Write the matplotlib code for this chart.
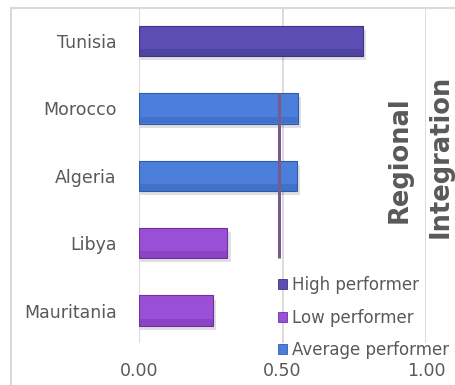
import matplotlib
matplotlib.use("Agg")
from matplotlib import pyplot as plt
from matplotlib.patches import Patch
from matplotlib.lines import Line2D

countries = ["Tunisia", "Morocco", "Algeria", "Libya", "Mauritania"]
scores = [0.78, 0.554, 0.55, 0.307, 0.258]
groups = ["High performer", "Average performer", "Average performer", "Low performer", "Low performer"]
avg_value = 0.488
avg_span = [0.78, 3.23]
legend_order = ["High performer", "Low performer", "Average performer"]
xticks = [0.0, 0.5, 1.0]
xticklabels = ["0.00", "0.50", "1.00"]

colors = {"High performer": "#5a4eb3", "Average performer": "#4c7fdc", "Low performer": "#9a50d6"}
edge = {"High performer": "#3f3485", "Average performer": "#2f5ca8", "Low performer": "#6e2fa3"}
grey = "#595959"

W, H = 456, 385
fig = plt.figure(figsize=(W / 100, H / 100), dpi=100)
ax = fig.add_axes([139 / W, 1 - 343 / H, (426 - 139) / W, (343 - 8) / H])

n = len(countries)
ypos = [n - 1 - i for i in range(n)]
bh = 0.45

# soft shadow under bars
ax.barh([y - 0.06 for y in ypos], [s + 0.008 for s in scores], height=bh, left=0.004,
        color="#000000", alpha=0.12, zorder=2)
for y, s, g in zip(ypos, scores, groups):
    ax.barh(y, s, height=bh, color=colors[g], edgecolor=edge[g], linewidth=0.8, zorder=3)
    # darker bottom band for the bevel look
    ax.barh(y - bh * 0.38, s, height=bh * 0.22, color=edge[g], alpha=0.35, linewidth=0, zorder=4)

ax.vlines(avg_value, avg_span[0], avg_span[1], color="#7a5a8c", linewidth=2.2, zorder=5)

ax.set_xlim(0, 1)
ax.set_ylim(-0.48, 4.49)
ax.set_xticks(xticks)
ax.set_xticklabels(xticklabels)
ax.set_yticks(ypos)
ax.set_yticklabels(countries)
ax.tick_params(axis="both", length=0, colors=grey, labelsize=12.5)
ax.tick_params(axis="y", pad=16)
ax.tick_params(axis="x", pad=14)
for sp in ax.spines.values():
    sp.set_visible(False)
ax.grid(axis="x", color="#d9d9d9", linewidth=1.3, zorder=0)
ax.set_axisbelow(True)

handles = [Patch(facecolor=colors[g], edgecolor=edge[g], linewidth=0.6) for g in legend_order]
fig.legend(handles, legend_order, loc="upper left", bbox_to_anchor=(278 / W, 1 - 276 / H),
           frameon=False, fontsize=12, labelcolor=grey, handlelength=0.55, handleheight=0.55,
           handletextpad=0.3, labelspacing=0.88, borderpad=0, borderaxespad=0)

fig.text(400 / W, 1 - 160 / H, "Regional", rotation=90, ha="center", va="center",
         fontsize=18.5, fontweight="bold", color=grey)
fig.text(441 / W, 1 - 156 / H, "Integration", rotation=90, ha="center", va="center",
         fontsize=18.5, fontweight="bold", color=grey)

# outer frame
fig.add_artist(Line2D([11 / W, 11 / W], [0, 1 - 8 / H], color="#d9d9d9", linewidth=1.5))
fig.add_artist(Line2D([11 / W, 1], [1 - 8 / H, 1 - 8 / H], color="#d9d9d9", linewidth=1.5))

fig.savefig("out.png", dpi=100)
